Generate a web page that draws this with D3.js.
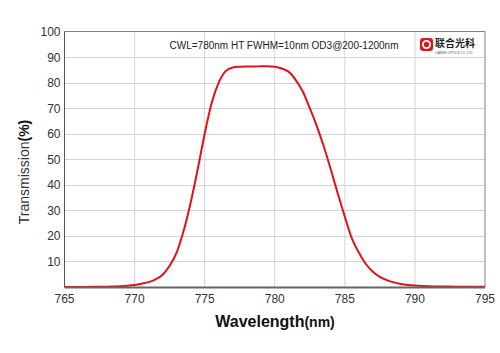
<!DOCTYPE html>
<html>
<head>
<meta charset="utf-8">
<script src="https://cdn.jsdelivr.net/npm/d3@7"></script>
<style>
  body { margin: 0; background: #fff; }
  svg { display: block; font-family: Arial, "Liberation Sans", sans-serif; }
</style>
</head>
<body>
<svg id="chart" width="500" height="353"></svg>
<script>
// wavelength (nm) and transmission (%)
const wavelengths = [765, 766, 767, 768, 768.5, 769, 769.5, 770, 770.5, 771, 771.5, 772, 772.5,
  773, 773.5, 774, 774.5, 775, 775.5, 776, 776.5, 777, 777.5, 778, 778.5, 779, 779.5, 780,
  780.5, 781, 781.5, 782, 782.5, 783, 783.5, 784, 784.5, 785, 785.5, 786, 786.5, 787, 787.5,
  788, 788.5, 789, 789.5, 790, 790.5, 791, 792, 793, 794, 795]
const transmission = [0.02, 0.03, 0.05, 0.1, 0.2, 0.3, 0.5, 0.8, 1.3, 1.9, 3.0, 4.8, 8.3,
  13.5, 22, 33, 46, 60, 72, 80, 84.5, 85.9, 86.2, 86.3, 86.3, 86.4, 86.4, 86.2,
  85.5, 84.2, 81, 76.5, 70, 63, 55, 46, 36.5, 27.5, 19, 13.5, 9, 6, 4,
  2.7, 1.8, 1.2, 0.8, 0.55, 0.4, 0.3, 0.18, 0.12, 0.08, 0.05]
const xTicks = [765, 770, 775, 780, 785, 790, 795]
const yTicks = [10, 20, 30, 40, 50, 60, 70, 80, 90, 100]
const titleText = 'CWL=780nm HT FWHM=10nm OD3@200-1200nm'

const data = wavelengths.map((w, i) => ({ w, t: transmission[i] }))

const margin = { left: 64.5, right: 15, top: 31.5, bottom: 66 }
const width = 500
const height = 353
const svg = d3.select('#chart')

const x = d3.scaleLinear().domain([765, 795]).range([margin.left, width - margin.right])
const y = d3.scaleLinear().domain([0, 100]).range([height - margin.bottom, margin.top])

// grid
svg.append('g')
  .selectAll('line')
  .data(yTicks.filter(d => d < 100))
  .join('line')
  .attr('x1', x(765)).attr('x2', x(795))
  .attr('y1', d => Math.round(y(d)) + 0.5).attr('y2', d => Math.round(y(d)) + 0.5)
  .attr('stroke', '#d4d4d4')
  .attr('stroke-width', 1)

svg.append('g')
  .selectAll('line')
  .data(xTicks.slice(1, -1))
  .join('line')
  .attr('x1', d => x(d)).attr('x2', d => x(d))
  .attr('y1', y(100)).attr('y2', y(0))
  .attr('stroke', '#d4d4d4')
  .attr('stroke-width', 1)

// frame
svg.append('line')
  .attr('x1', x(765)).attr('x2', x(795)).attr('y1', y(100)).attr('y2', y(100))
  .attr('stroke', '#808080')
svg.append('line')
  .attr('x1', x(795)).attr('x2', x(795)).attr('y1', y(100)).attr('y2', y(0))
  .attr('stroke', '#808080')
svg.append('line')
  .attr('x1', x(765)).attr('x2', x(765)).attr('y1', y(100)).attr('y2', y(0))
  .attr('stroke', '#555')

// y tick labels
svg.append('g')
  .selectAll('text')
  .data(yTicks)
  .join('text')
  .attr('x', x(765) - 4)
  .attr('y', d => y(d) + 4.5)
  .attr('text-anchor', 'end')
  .attr('fill', '#333')
  .style('font-size', '12px')
  .text(d => d)

// x tick labels
svg.append('g')
  .selectAll('text')
  .data(xTicks)
  .join('text')
  .attr('x', d => x(d))
  .attr('y', y(0) + 16)
  .attr('text-anchor', 'middle')
  .attr('fill', '#333')
  .style('font-size', '12px')
  .text(d => d)

// curve
const line = d3.line()
  .x(d => x(d.w))
  .y(d => y(d.t))
  .curve(d3.curveMonotoneX)

svg.append('path')
  .datum(data)
  .attr('d', line)
  .attr('fill', 'none')
  .attr('stroke', '#e0121a')
  .attr('stroke-width', 2)

// bottom axis line over the curve
svg.append('line')
  .attr('x1', x(765)).attr('x2', x(795)).attr('y1', y(0) + 0.5).attr('y2', y(0) + 0.5)
  .attr('stroke', '#666')
  .attr('stroke-width', 2)

// axis titles
const xTitle = svg.append('text')
  .attr('x', 275)
  .attr('y', 327)
  .attr('text-anchor', 'middle')
  .attr('fill', '#111')
  .style('font-weight', 'bold')
xTitle.append('tspan').style('font-size', '16px').text('Wavelength')
xTitle.append('tspan').style('font-size', '14px').text('(nm)')

const yTitle = svg.append('text')
  .attr('transform', 'translate(29,172) rotate(-90)')
  .attr('text-anchor', 'middle')
  .attr('fill', '#333')
yTitle.append('tspan').style('font-size', '14px').text('Transmission')
yTitle.append('tspan').style('font-size', '14px').style('font-weight', 'bold').attr('fill', '#111').text('(%)')

// header text
svg.append('text')
  .attr('x', 284)
  .attr('y', 49)
  .attr('text-anchor', 'middle')
  .attr('fill', '#222')
  .style('font-size', '10px')
  .text(titleText)

// logo
const logo = svg.append('g').attr('transform', 'translate(420,38)')
logo.append('rect')
  .attr('width', 13).attr('height', 13).attr('rx', 3)
  .attr('fill', '#d7191f')
logo.append('circle')
  .attr('cx', 6.5).attr('cy', 6.5).attr('r', 3.6)
  .attr('fill', 'none').attr('stroke', '#fff').attr('stroke-width', 1.8)
logo.append('text')
  .attr('x', 15).attr('y', 9)
  .attr('fill', '#222')
  .style('font-family', '"Noto Sans CJK SC", sans-serif')
  .style('font-weight', 'bold')
  .style('font-size', '10px')
  .text('联合光科')
logo.append('text')
  .attr('x', 15).attr('y', 15.5)
  .attr('fill', '#555')
  .style('font-size', '3.2px')
  .text('LIANHE  OPTICS CO.,LTD')
</script>
</body>
</html>
